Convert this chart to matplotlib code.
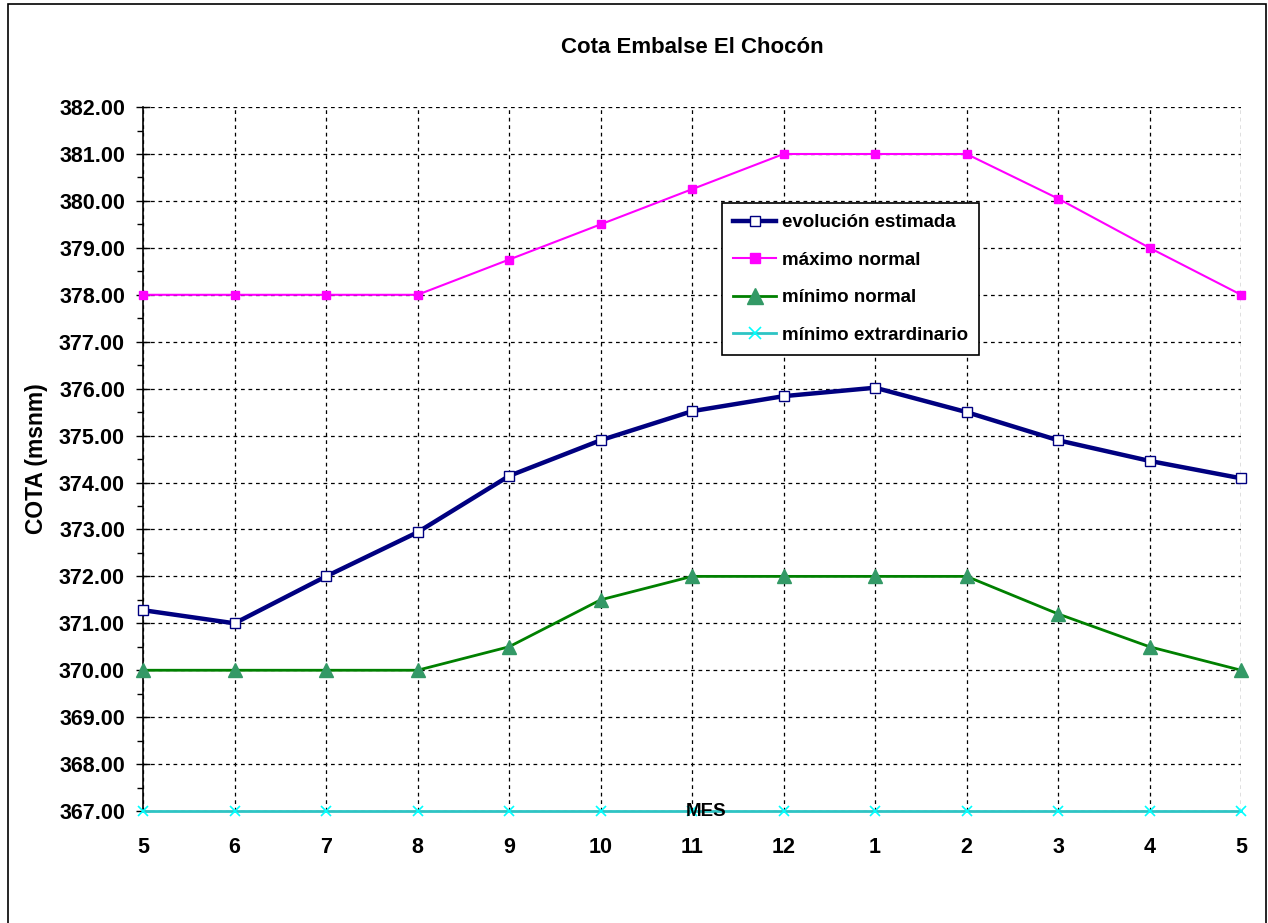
import numpy as np
import matplotlib
matplotlib.use("Agg")
import matplotlib.pyplot as plt
from matplotlib.patches import Rectangle
from matplotlib.ticker import MultipleLocator, FormatStrFormatter

plt.rcParams['font.family'] = ['Liberation Sans', 'DejaVu Sans']
plt.rcParams['font.weight'] = 'bold'

# months from May to May
meses = ['5', '6', '7', '8', '9', '10', '11', '12', '1', '2', '3', '4', '5']
evolucion = [371.28, 371.0, 372.0, 372.94, 374.14, 374.9, 375.52, 375.84,
             376.02, 375.5, 374.9, 374.46, 374.09]
maximo_normal = [378.0, 378.0, 378.0, 378.0, 378.75, 379.5, 380.25, 381.0,
                 381.0, 381.0, 380.05, 379.0, 378.0]
minimo_normal = [370.0, 370.0, 370.0, 370.0, 370.5, 371.5, 372.0, 372.0,
                 372.0, 372.0, 371.2, 370.5, 370.0]
minimo_extra = [367.0] * 13

x = np.arange(len(meses))

fig = plt.figure(figsize=(12.68, 9.23), dpi=100)
ax = fig.add_axes([0.1128, 0.1213, 0.866, 0.7627])

# outer chart frame
fig.patches.append(Rectangle((8 / 1268, -0.01), (1266 - 8) / 1268, 1 - 4 / 923 + 0.01,
                             transform=fig.transFigure, fill=False,
                             edgecolor='black', lw=1.2))

ax.plot(x, minimo_extra, color='#2EC4C4', lw=2, marker='x', ms=7,
        mec='#00FFFF', mew=1.2, label='mínimo extrardinario', zorder=3,
        clip_on=False)
ax.plot(x, minimo_normal, color='#008000', lw=2, marker='^', ms=10,
        mfc='#339966', mec='#339966', label='mínimo normal', zorder=4,
        clip_on=False)
ax.plot(x, maximo_normal, color='#FF00FF', lw=1.5, marker='s', ms=6,
        mfc='#FF00FF', mec='#FF00FF', label='máximo normal', zorder=4,
        clip_on=False)
ax.plot(x, evolucion, color='#000080', lw=3.2, marker='s', ms=6.5,
        mfc='white', mec='#000080', mew=1, label='evolución estimada', zorder=5,
        clip_on=False)

ax.set_xlim(0, len(meses) - 1)
ax.set_ylim(367, 382)
ax.set_xticks(x)
ax.set_xticklabels(meses)
ax.yaxis.set_major_locator(MultipleLocator(1))
ax.yaxis.set_minor_locator(MultipleLocator(0.5))
ax.yaxis.set_major_formatter(FormatStrFormatter('%.2f'))

ax.tick_params(axis='y', which='major', direction='inout', length=10,
               width=1, labelsize=15.5, pad=8)
ax.tick_params(axis='y', which='minor', direction='out', length=4, width=1)
ax.tick_params(axis='x', which='major', length=0, labelsize=15.5, pad=19)

ax.grid(True, which='major', color='black', ls=(0, (3, 3)), lw=0.9)
for s in ['top', 'right', 'bottom']:
    ax.spines[s].set_visible(False)
ax.spines['left'].set_linewidth(1.2)

ax.set_title('Cota Embalse El Chocón', fontsize=16, fontweight='bold', pad=39)
ax.set_ylabel('COTA (msnm)', fontsize=16.5, fontweight='bold', labelpad=8)
ax.text(0.513, 0.0, 'MES', transform=ax.transAxes, ha='center', va='center',
        fontsize=13.5, fontweight='bold', zorder=6)

h, l = ax.get_legend_handles_labels()
leg = ax.legend(h[::-1], l[::-1], loc='upper left', bbox_to_anchor=(0.5273, 0.8636),
                borderaxespad=0, fontsize=13.5, frameon=True, fancybox=False,
                edgecolor='black', framealpha=1, handlelength=2.3,
                labelspacing=1.08, borderpad=0.6, handletextpad=0.3,
                markerscale=1.2)
leg.get_frame().set_linewidth(1.2)

fig.savefig('out.png', dpi=100)
